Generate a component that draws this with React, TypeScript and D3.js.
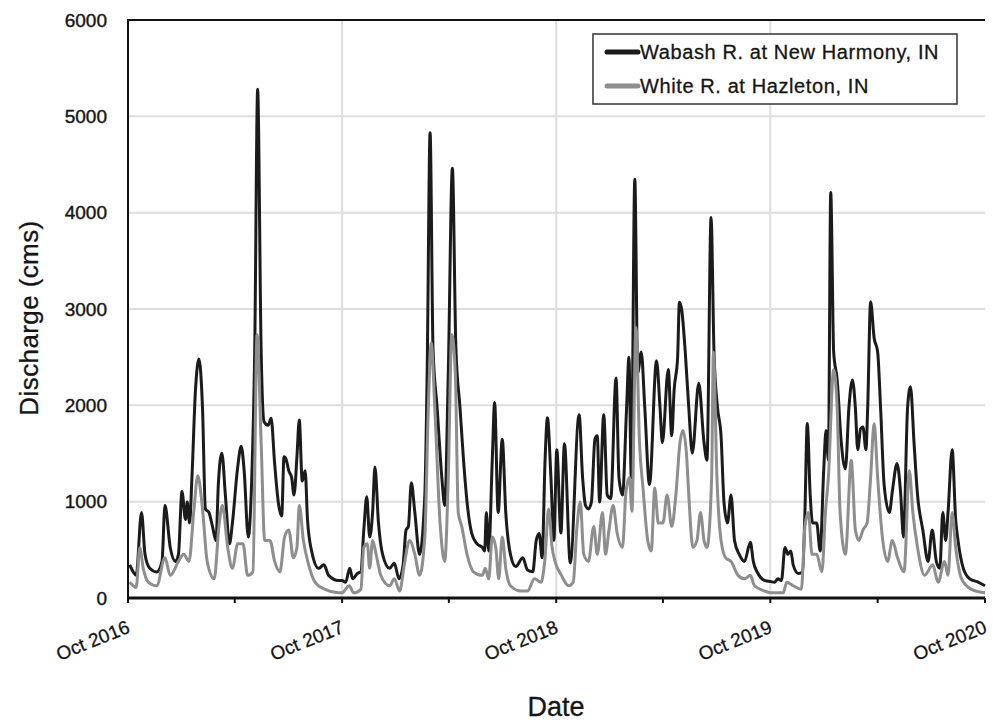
import React from 'react'
import * as d3 from 'd3'

// days counted from 1 Oct 2016, discharge in cms
const wabashDays = [
  3, 9, 14, 23, 29, 37, 49, 58, 63, 72, 81, 86, 92, 98, 101, 105, 109, 115, 121, 127,
  132, 138, 144, 150, 154, 160, 166, 173, 178, 187, 193, 198, 205, 211, 216, 221, 227, 232, 239, 244,
  250, 257, 262, 266, 270, 274, 279, 283, 288, 292, 297, 302, 306, 313, 325, 334, 342, 359,
  365, 371, 378, 383, 391, 397, 402, 407, 412, 417, 421, 427, 434, 446, 454, 462, 469, 474, 478, 483,
  489, 497, 506, 510, 515, 520, 527, 535, 540, 546, 553, 559, 566, 572, 578, 586, 595, 604, 608, 611,
  615, 621, 625, 631, 638, 644, 652, 661, 673, 681, 690, 696, 701, 706, 711, 715, 721, 726,
  731, 738, 744, 754, 769, 775, 780, 785, 790, 796, 800, 804, 811, 817, 823, 832, 837, 843, 850, 854,
  858, 864, 869, 875, 881, 889, 901, 907, 911, 921, 927, 931, 937, 940, 944, 950, 956, 962, 973, 982, 987,
  994, 999, 1005, 1011, 1016, 1022, 1028, 1034, 1042, 1051, 1061, 1066, 1074, 1086,
  1096, 1102, 1108, 1114, 1120, 1125, 1130, 1134, 1143, 1150, 1154, 1158, 1163, 1167, 1174, 1180,
  1186, 1190, 1194, 1198, 1203, 1209, 1216, 1223, 1229, 1235, 1240, 1244, 1249, 1253, 1258, 1261,
  1266, 1272, 1278, 1283, 1289, 1298, 1303, 1311, 1317, 1322, 1329, 1334, 1340, 1346, 1355, 1364,
  1371, 1378, 1384, 1389, 1394, 1398, 1405, 1411, 1415, 1424, 1435, 1450, 1461,
]
const wabashCms = [
  344, 270, 235, 888, 453, 308, 270, 380, 960, 525, 380, 453, 1105, 815, 996, 779, 1250, 2155, 2480, 1975,
  924, 888, 743, 598, 1178, 1503, 1069, 562, 779, 1359, 1576, 1322, 634, 1250, 2554, 5280, 2554, 1830, 1793, 1866,
  1395, 960, 851, 1467, 1431, 1322, 1250, 1069, 1467, 1848, 1214, 1322, 815, 489, 308, 344, 235, 181,
  181, 163, 308, 199, 254, 272, 706, 1051, 634, 888, 1359, 779, 453, 308, 362, 199, 344, 706, 743, 1196,
  888, 453, 1069, 2337, 4830, 2590, 1975, 1250, 960, 2337, 4460, 2590, 1975, 1431, 996, 670, 562, 525, 489, 888,
  489, 1431, 2029, 888, 1649, 888, 453, 326, 417, 290, 272, 598, 670, 417, 1431, 1870, 1250, 600,
  1540, 675, 1600, 363, 1902, 1250, 960, 924, 996, 1649, 1685, 996, 1902, 1069, 1033, 2283, 1250, 1069, 1975, 2500,
  1250, 4348, 2337, 2554, 1975, 1178, 2464, 1975, 1612, 2373, 1685, 2155, 2500, 3070, 2989, 2554, 1975, 1503, 2228, 1612, 1431,
  3949, 2554, 1975, 1685, 996, 779, 1069, 598, 453, 380, 580, 380, 254, 181,
  170, 163, 199, 181, 525, 453, 489, 344, 254, 272, 888, 1812, 1069, 779, 779, 489,
  1322, 1739, 1431, 4210, 2554, 2264, 1612, 1341, 1975, 2264, 1975, 1540, 1757, 1775, 1540, 1975,
  3075, 2699, 2554, 1975, 1178, 888, 1105, 1395, 1105, 634, 1975, 2192, 1612, 1069, 706, 380,
  706, 380, 308, 888, 598, 888, 1540, 815, 598, 308, 199, 163, 127,
]

const whiteDays = [
  3, 14, 20, 26, 35, 49, 63, 72, 86, 95, 104, 112, 119, 127, 135, 147, 155, 161, 170, 178,
  187, 196, 204, 213, 220, 227, 233, 242, 250, 259, 267, 274, 282, 288, 292, 299, 308, 319, 336, 359,
  365, 377, 385, 397, 402, 408, 412, 417, 423, 431, 446, 454, 463, 471, 480, 489, 497, 506, 512, 517,
  523, 532, 540, 546, 552, 558, 563, 569, 578, 589, 604, 609, 615, 621, 627, 632, 638, 644, 652, 670,
  681, 693, 704, 711, 717, 723,
  728, 739, 751, 759, 765, 771, 777, 785, 794, 800, 809, 814, 820, 827, 834, 843, 849, 855, 859, 866,
  872, 878, 886, 892, 898, 904, 912, 919, 927, 934, 941, 946, 952, 956, 963, 970, 976, 982, 987, 995,
  998, 1004, 1011, 1019, 1028, 1040, 1051, 1061, 1068, 1086,
  1096, 1117, 1123, 1134, 1148, 1154, 1160, 1166, 1174, 1183, 1189, 1194, 1203, 1209, 1214, 1223,
  1233, 1240, 1246, 1253, 1260, 1266, 1272, 1278, 1286, 1295, 1303, 1312, 1323, 1332, 1338, 1346,
  1358, 1372, 1381, 1392, 1398, 1405, 1411, 1421, 1438, 1461,
]
const whiteCms = [
  163, 109, 525, 308, 163, 127, 417, 235, 380, 453, 380, 888, 1268, 924, 380, 199, 743, 960, 525, 308,
  562, 562, 235, 272, 2735, 1612, 598, 598, 380, 272, 634, 706, 417, 525, 960, 598, 344, 163, 90, 54,
  54, 127, 54, 90, 525, 562, 308, 598, 453, 235, 127, 199, 72, 344, 598, 453, 235, 634, 1975, 2650,
  1975, 779, 380, 1250, 2735, 2337, 888, 743, 453, 272, 235, 308, 199, 634, 525, 199, 634, 308, 127, 72,
  72, 199, 163, 417, 924, 525,
  380, 235, 127, 163, 706, 996, 453, 380, 743, 453, 888, 453, 706, 960, 670, 525, 1105, 1250, 900, 2808,
  1612, 1141, 598, 489, 1141, 779, 779, 1069, 743, 1069, 1612, 1739, 1503, 1069, 525, 598, 888, 598, 525, 1250,
  2554, 1250, 598, 417, 380, 235, 199, 235, 127, 72,
  54, 54, 163, 127, 90, 743, 888, 453, 453, 272, 888, 1250, 2373, 1975, 888, 453,
  1431, 706, 598, 706, 779, 1250, 1812, 1250, 634, 380, 598, 417, 272, 1322, 888, 525,
  235, 344, 163, 380, 235, 888, 525, 199, 90, 54,
]

const yTicks = [0, 1000, 2000, 3000, 4000, 5000, 6000]
const seriesNames = ['Wabash R. at New Harmony, IN', 'White R. at Hazleton, IN']
const seriesColors = ['#1b1b1b', '#8e8e8e']

const start = new Date(2016, 9, 1)
const end = new Date(2020, 9, 1)

export default function App() {
  const width = 1002,
    height = 721
  const left = 128,
    right = 985,
    top = 20,
    bottom = 598

  const x = d3.scaleTime().domain([start, end]).range([left, right])
  const y = d3.scaleLinear().domain([0, 6000]).range([bottom, top])

  const toPoints = (days: number[], vals: number[]) =>
    days.map((d, i) => ({ date: d3.timeDay.offset(start, d), v: vals[i] }))

  const wabash = toPoints(wabashDays, wabashCms)
  const white = toPoints(whiteDays, whiteCms)

  const line = d3
    .line<{ date: Date; v: number }>()
    .x(d => x(d.date))
    .y(d => y(d.v))
    .curve(d3.curveMonotoneX)

  // ticks every April and October, labels on October
  const halfYears = d3.timeMonth
    .range(start, d3.timeDay.offset(end, 1))
    .filter(d => d.getMonth() === 3 || d.getMonth() === 9)
  const years = halfYears.filter(d => d.getMonth() === 9)
  const fmt = d3.timeFormat('%b %Y')

  const font = '"Liberation Sans", Arial, Helvetica, sans-serif'
  const ink = '#151515'

  return (
    <div style={{ position: 'absolute', left: 0, top: 0 }}>
      <svg width={width} height={height} style={{ display: 'block', fontFamily: font }}>
        <rect width={width} height={height} fill="#fff" />

        {/* grid */}
        {yTicks.slice(1, -1).map(t => (
          <line key={t} x1={left} x2={right} y1={y(t)} y2={y(t)} stroke="#dedede" strokeWidth={2} />
        ))}
        {years.slice(1, -1).map((d, i) => (
          <line key={i} x1={x(d)} x2={x(d)} y1={top} y2={bottom} stroke="#dedede" strokeWidth={2} />
        ))}

        {/* series */}
        <path d={line(wabash) || ''} fill="none" stroke={seriesColors[0]} strokeWidth={3} strokeLinejoin="round" />
        <path d={line(white) || ''} fill="none" stroke={seriesColors[1]} strokeWidth={3} strokeLinejoin="round" />

        {/* frame and axes */}
        <line x1={left} x2={right} y1={top} y2={top} stroke="#111" strokeWidth={2} />
        <line x1={left} x2={left} y1={top - 1} y2={bottom} stroke="#111" strokeWidth={2} />
        <line x1={left - 1} x2={right} y1={bottom} y2={bottom} stroke="#111" strokeWidth={3} />

        {halfYears.map((d, i) => (
          <line key={i} x1={x(d)} x2={x(d)} y1={bottom} y2={bottom + 5} stroke="#111" strokeWidth={2} />
        ))}

        {yTicks.map(t => (
          <text key={t} x={107} y={y(t)} dy="0.35em" textAnchor="end" fontSize={19} fill={ink} stroke={ink} strokeWidth={0.4}>
            {t}
          </text>
        ))}

        {years.map((d, i) => (
          <text
            key={i}
            textAnchor="end"
            fontSize={19}
            fill={ink}
            stroke={ink}
            strokeWidth={0.3}
            transform={`translate(${x(d) + 3}, ${bottom + 34}) rotate(-22)`}
          >
            {fmt(d)}
          </text>
        ))}

        <text x={556} y={716} textAnchor="middle" fontSize={27} fill={ink} stroke={ink} strokeWidth={0.3}>
          Date
        </text>
        <text
          transform={`translate(38, 318) rotate(-90)`}
          textAnchor="middle"
          fontSize={26}
          letterSpacing={0.4}
          fill={ink}
          stroke={ink}
          strokeWidth={0.3}
        >
          Discharge (cms)
        </text>

        {/* legend */}
        <g transform="translate(593, 34)">
          <rect width={364} height={70} fill="#fff" stroke="#333" strokeWidth={1.5} />
          {seriesNames.map((name, i) => (
            <g key={name} transform={`translate(0, ${18 + i * 34})`}>
              <line x1={14} x2={45} y1={0} y2={0} stroke={seriesColors[i]} strokeWidth={5} strokeLinecap="round" />
              <text
                x={47}
                y={0}
                dy="0.35em"
                fontSize={20}
                letterSpacing={0.6}
                fill={ink}
                stroke={ink}
                strokeWidth={0.3}
              >
                {name}
              </text>
            </g>
          ))}
        </g>
      </svg>
    </div>
  )
}
